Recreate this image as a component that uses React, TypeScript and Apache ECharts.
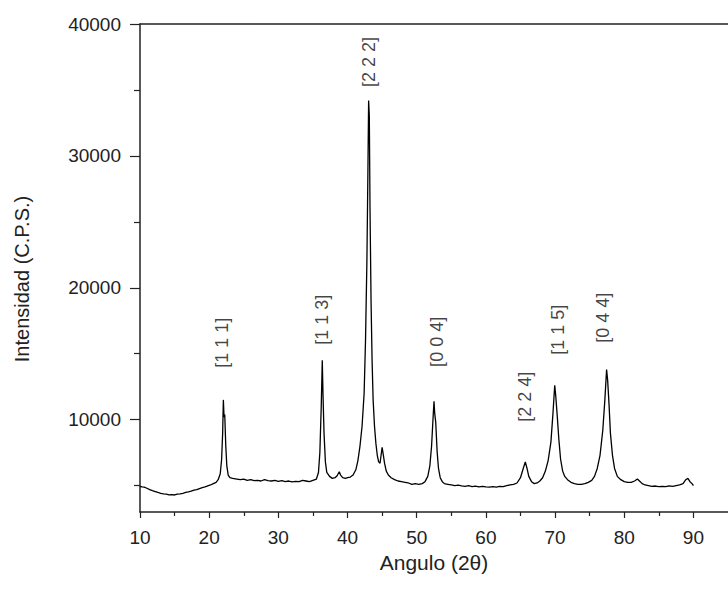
import React, { useEffect, useRef } from "react";
import * as echarts from "echarts";

// XRD pattern: [2θ, intensity (C.P.S.)]
const pattern: [number, number][] = [
  [10.0, 4950], [10.3, 4900], [10.6, 4880], [11.0, 4800], [11.4, 4700], [11.8, 4620],
  [12.2, 4550], [12.6, 4480], [13.0, 4420], [13.4, 4380], [13.8, 4350], [14.2, 4300],
  [14.6, 4320], [15.0, 4290], [15.4, 4360], [15.8, 4380], [16.2, 4420], [16.6, 4480],
  [17.0, 4520], [17.4, 4580], [17.8, 4650], [18.2, 4700], [18.6, 4780], [19.0, 4850],
  [19.4, 4900], [19.8, 4980], [20.2, 5050], [20.6, 5150], [21.0, 5250], [21.3, 5450],
  [21.6, 5900], [21.8, 7000], [21.95, 9000], [22.05, 11500], [22.15, 10200], [22.25, 10400],
  [22.4, 8000], [22.55, 6500], [22.75, 5800], [23.0, 5600], [23.4, 5550], [24.0, 5500],
  [24.5, 5450], [25.0, 5500], [25.5, 5400], [26.0, 5450], [26.5, 5380], [27.0, 5400],
  [27.5, 5350], [28.0, 5450], [28.5, 5380], [29.0, 5350], [29.5, 5400], [30.0, 5320],
  [30.5, 5380], [31.0, 5300], [31.5, 5350], [32.0, 5280], [32.5, 5320], [33.0, 5300],
  [33.5, 5400], [34.0, 5350], [34.5, 5300], [35.0, 5400], [35.5, 5500], [35.8, 6000],
  [36.0, 7500], [36.2, 11000], [36.35, 14500], [36.45, 12000], [36.6, 9000], [36.8, 6800],
  [37.0, 6000], [37.4, 5700], [37.8, 5550], [38.2, 5600], [38.5, 5750], [38.8, 6050],
  [39.0, 5800], [39.3, 5600], [39.7, 5550], [40.0, 5600], [40.4, 5650], [40.8, 5800],
  [41.2, 6200], [41.5, 6900], [41.8, 8000], [42.1, 9500], [42.4, 12000], [42.6, 16000],
  [42.8, 22000], [42.95, 29000], [43.05, 34200], [43.15, 33000], [43.25, 26000], [43.4, 19000],
  [43.55, 14500], [43.7, 11500], [43.9, 9500], [44.1, 8200], [44.3, 7300], [44.5, 6800],
  [44.7, 6700], [44.85, 7300], [45.0, 7900], [45.15, 7400], [45.35, 6700], [45.6, 6100],
  [45.9, 5800], [46.3, 5600], [46.8, 5450], [47.3, 5350], [47.8, 5300], [48.3, 5250],
  [48.8, 5200], [49.3, 5100], [49.8, 5150], [50.3, 5100], [50.8, 5150], [51.2, 5300],
  [51.6, 5700], [51.9, 6500], [52.15, 8000], [52.35, 10000], [52.5, 11400], [52.6, 10500],
  [52.75, 9800], [52.95, 7600], [53.15, 6300], [53.4, 5600], [53.7, 5300], [54.0, 5150],
  [54.5, 5100], [55.0, 5050], [55.5, 5000], [56.0, 5030], [56.5, 4980], [57.0, 4950],
  [57.5, 5000], [58.0, 4930], [58.5, 4960], [59.0, 4900], [59.5, 4950], [60.0, 4900],
  [60.5, 4880], [61.0, 4920], [61.5, 4880], [62.0, 4950], [62.5, 4920], [63.0, 5000],
  [63.5, 5050], [64.0, 5100], [64.5, 5200], [65.0, 5600], [65.4, 6300], [65.7, 6800],
  [65.95, 6300], [66.2, 5700], [66.6, 5300], [67.0, 5150], [67.4, 5200], [67.8, 5350],
  [68.2, 5600], [68.6, 6100], [69.0, 6900], [69.4, 8300], [69.7, 10500], [69.95, 12600],
  [70.1, 11800], [70.3, 10400], [70.55, 8500], [70.8, 7000], [71.1, 6100], [71.4, 5700],
  [71.8, 5450], [72.3, 5250], [72.8, 5150], [73.3, 5100], [73.8, 5100], [74.3, 5150],
  [74.8, 5250], [75.3, 5400], [75.7, 5700], [76.1, 6300], [76.5, 7300], [76.9, 9200],
  [77.2, 11500], [77.45, 13800], [77.6, 13000], [77.8, 11200], [78.0, 9000], [78.3, 7300],
  [78.6, 6300], [79.0, 5700], [79.5, 5450], [80.0, 5300], [80.5, 5250], [81.0, 5250],
  [81.5, 5350], [81.9, 5500], [82.2, 5350], [82.6, 5150], [83.0, 5050], [83.5, 5000],
  [84.0, 4950], [84.5, 4970], [85.0, 4920], [85.5, 4950], [86.0, 4930], [86.5, 4980],
  [87.0, 4950], [87.5, 5000], [88.0, 5050], [88.5, 5150], [88.9, 5450], [89.2, 5550],
  [89.5, 5300], [89.8, 5150], [90.0, 5000],
];

// Miller index annotations (placed in data coordinates)
const peakLabels = ["[1 1 1]", "[1 1 3]", "[2 2 2]", "[0 0 4]", "[2 2 4]", "[1 1 5]", "[0 4 4]"];
const peakLabelX = [21.9, 36.3, 43.1, 52.9, 65.7, 70.4, 77.0];
const peakLabelY = [15830, 17580, 37120, 15900, 11740, 16820, 17730];

const xMajorTicks = [10, 20, 30, 40, 50, 60, 70, 80, 90];
const xMinorTicks = [15, 25, 35, 45, 55, 65, 75, 85];
const yMajorTicks = [10000, 20000, 30000, 40000];
const yMinorTicks = [5000, 15000, 25000, 35000];

const FONT = "Liberation Sans, Arial, sans-serif";
const INK = "#222";

export default function App() {
  const ref = useRef<HTMLDivElement>(null);
  useEffect(() => {
    if (!ref.current) return;
    const chart = echarts.init(ref.current, undefined, { renderer: "svg" });
    const axisLine = { show: true, lineStyle: { color: INK, width: 1.5 } };
    chart.setOption({
      animation: false,
      backgroundColor: "#fff",
      grid: { left: 140, top: 24, right: -10, bottom: 78, containLabel: false },
      xAxis: [
        {
          type: "value", position: "bottom", min: 10, max: 95,
          axisLine,
          axisTick: { show: true, customValues: xMajorTicks, length: 6, lineStyle: { color: INK, width: 1.2 } },
          axisLabel: { customValues: xMajorTicks, color: INK, fontSize: 19, fontFamily: FONT, margin: 16, formatter: (v: number) => String(v) },
          splitLine: { show: false },
          name: "Angulo (2θ)", nameLocation: "middle", nameGap: 39,
          nameTextStyle: { color: INK, fontSize: 21, fontFamily: FONT },
        },
        {
          type: "value", position: "bottom", min: 10, max: 95,
          axisLine: { show: false },
          axisTick: { show: true, customValues: xMinorTicks, length: 4, lineStyle: { color: INK, width: 1.2 } },
          axisLabel: { show: false },
          splitLine: { show: false },
        },
        {
          type: "value", position: "top", min: 10, max: 95,
          axisLine,
          axisTick: { show: false },
          axisLabel: { show: false },
          splitLine: { show: false },
        },
      ],
      yAxis: [
        {
          type: "value", position: "left", min: 3000, max: 40000,
          axisLine,
          axisTick: { show: true, customValues: yMajorTicks, length: 10, lineStyle: { color: INK, width: 1.2 } },
          axisLabel: { customValues: yMajorTicks, color: INK, fontSize: 19, fontFamily: FONT, margin: 19, formatter: (v: number) => String(v) },
          splitLine: { show: false },
          name: "Intensidad (C.P.S.)", nameLocation: "middle", nameGap: 108,
          nameTextStyle: { color: INK, fontSize: 20, fontFamily: FONT, padding: [0, 22, 0, 0] },
        },
        {
          type: "value", position: "left", min: 3000, max: 40000,
          axisLine: { show: false },
          axisTick: { show: true, customValues: yMinorTicks, length: 6, lineStyle: { color: INK, width: 1.2 } },
          axisLabel: { show: false },
          splitLine: { show: false },
        },
      ],
      series: [
        {
          type: "line",
          data: pattern,
          xAxisIndex: 0, yAxisIndex: 0,
          showSymbol: false, symbol: "none",
          lineStyle: { color: "#000", width: 1.3 },
          silent: true,
        },
        {
          type: "scatter",
          xAxisIndex: 0, yAxisIndex: 0,
          symbolSize: 0,
          silent: true,
          data: peakLabels.map((t, i) => ({
            value: [peakLabelX[i], peakLabelY[i]],
            label: { formatter: t },
          })),
          label: {
            show: true, position: "inside", rotate: 90,
            color: "#111", fontSize: 18, fontFamily: FONT,
            align: "center", verticalAlign: "middle",
          },
        },
      ],
    });
    return () => chart.dispose();
  }, []);
  return <div ref={ref} style={{ position: "fixed", left: 0, top: 0, width: 728, height: 590, background: "#fff" }} />;
}
